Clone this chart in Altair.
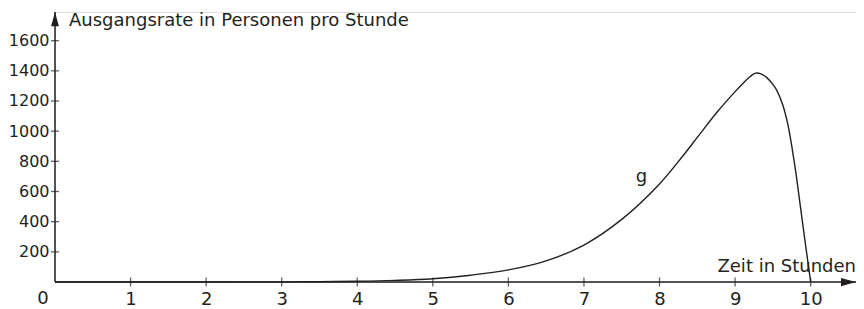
import altair as alt
import pandas as pd

# curve g
t_vals = [0, 1, 2, 3, 3.5, 4, 4.5, 5, 5.5, 6, 6.5, 7, 7.5, 8, 8.3, 8.54, 8.76,
          9.0, 9.1, 9.2, 9.27, 9.35, 9.42, 9.5, 9.55, 9.63, 9.70, 9.76, 9.81, 9.90, 10]
g_vals = [0, 0, 0, 1, 2, 5, 11, 22, 45, 80, 140, 245, 415, 650, 830, 985, 1125,
          1262, 1315, 1362, 1385, 1378, 1355, 1310, 1272, 1175, 1040, 870, 705, 365, 0]

x_ticks = [1, 2, 3, 4, 5, 6, 7, 8, 9, 10]
y_ticks = [200, 400, 600, 800, 1000, 1200, 1400, 1600]

x_title = "Zeit in Stunden"
y_title = "Ausgangsrate in Personen pro Stunde"
curve_label = "g"
curve_label_pos = (7.76, 660)

X_MAX = 10.6
Y_MAX = 1790
INK = "#231f20"
FONT = "DejaVu Sans"
FS = 18

xs = alt.Scale(domain=[0, X_MAX], nice=False, zero=False)
ys = alt.Scale(domain=[0, Y_MAX], nice=False, zero=False)

x_axis = alt.Axis(values=x_ticks, domain=False, ticks=False, grid=False, title=None,
                  format="d", labelFontSize=FS, labelPadding=8, labelColor=INK,
                  labelFont=FONT)
y_axis = alt.Axis(values=y_ticks, domain=False, ticks=False, grid=False, title=None,
                  format="d", labelFontSize=16, labelPadding=6, labelColor=INK,
                  labelFont=FONT)


def X(field="x"):
    return alt.X(f"{field}:Q", scale=xs, axis=x_axis)


def Y(field="y"):
    return alt.Y(f"{field}:Q", scale=ys, axis=y_axis)


curve_df = pd.DataFrame({"x": t_vals, "y": g_vals})
curve = alt.Chart(curve_df).mark_line(color=INK, strokeWidth=1.4, interpolate="catmull-rom").encode(
    x=X(), y=Y()
)

# axis lines
axes_df = pd.DataFrame({"x": [0, 0], "y": [0, 0], "x2": [X_MAX, 0], "y2": [0, Y_MAX]})
axis_lines = alt.Chart(axes_df).mark_rule(color=INK, strokeWidth=1.5).encode(
    x=X(), y=Y(), x2="x2:Q", y2="y2:Q"
)

# arrow heads
arrow_right = alt.Chart(pd.DataFrame({"x": [X_MAX], "y": [0]})).mark_point(
    shape="M0,0L-2,-0.55L-2,0.55Z", size=225, filled=True, color=INK, opacity=1
).encode(x=X(), y=Y())
arrow_up = alt.Chart(pd.DataFrame({"x": [0], "y": [Y_MAX]})).mark_point(
    shape="M0,0L-0.55,2L0.55,2Z", size=200, filled=True, color=INK, opacity=1
).encode(x=X(), y=Y())

# tick marks crossing the axes
xt = alt.Chart(pd.DataFrame({"x": x_ticks, "y": [0] * len(x_ticks)})).mark_tick(
    orient="vertical", size=9, thickness=1.3, color=INK
).encode(x=X(), y=Y())
yt = alt.Chart(pd.DataFrame({"x": [0] * len(y_ticks), "y": y_ticks})).mark_tick(
    orient="horizontal", size=8, thickness=1.3, color=INK
).encode(x=X(), y=Y())

# texts
zero_lbl = alt.Chart(pd.DataFrame({"x": [0], "y": [0], "t": ["0"]})).mark_text(
    fontSize=FS, font=FONT, color=INK, align="center", baseline="top", dx=-12, dy=8
).encode(x=X(), y=Y(), text="t:N")
xtitle = alt.Chart(pd.DataFrame({"x": [X_MAX], "y": [0], "t": [x_title]})).mark_text(
    fontSize=FS, font=FONT, color=INK, align="right", baseline="alphabetic", dy=-10
).encode(x=X(), y=Y(), text="t:N")
ytitle = alt.Chart(pd.DataFrame({"x": [0], "y": [Y_MAX], "t": [y_title]})).mark_text(
    fontSize=FS, font=FONT, color=INK, align="left", baseline="alphabetic", dx=14, dy=14
).encode(x=X(), y=Y(), text="t:N")
glbl = alt.Chart(pd.DataFrame({"x": [curve_label_pos[0]], "y": [curve_label_pos[1]],
                               "t": [curve_label]})).mark_text(
    fontSize=FS, font=FONT, color=INK, align="center", baseline="alphabetic"
).encode(x=X(), y=Y(), text="t:N")

chart = alt.layer(
    axis_lines, xt, yt, curve, arrow_right, arrow_up, zero_lbl, xtitle, ytitle, glbl
).properties(
    width=801, height=270,
    autosize=alt.AutoSizeParams(type="none"),
    padding={"left": 47, "top": 4, "right": 0, "bottom": 25},
).configure_view(strokeWidth=0, stroke="transparent").configure(background="white")

chart.save("out.html", embed_options={"renderer": "svg", "actions": False})
